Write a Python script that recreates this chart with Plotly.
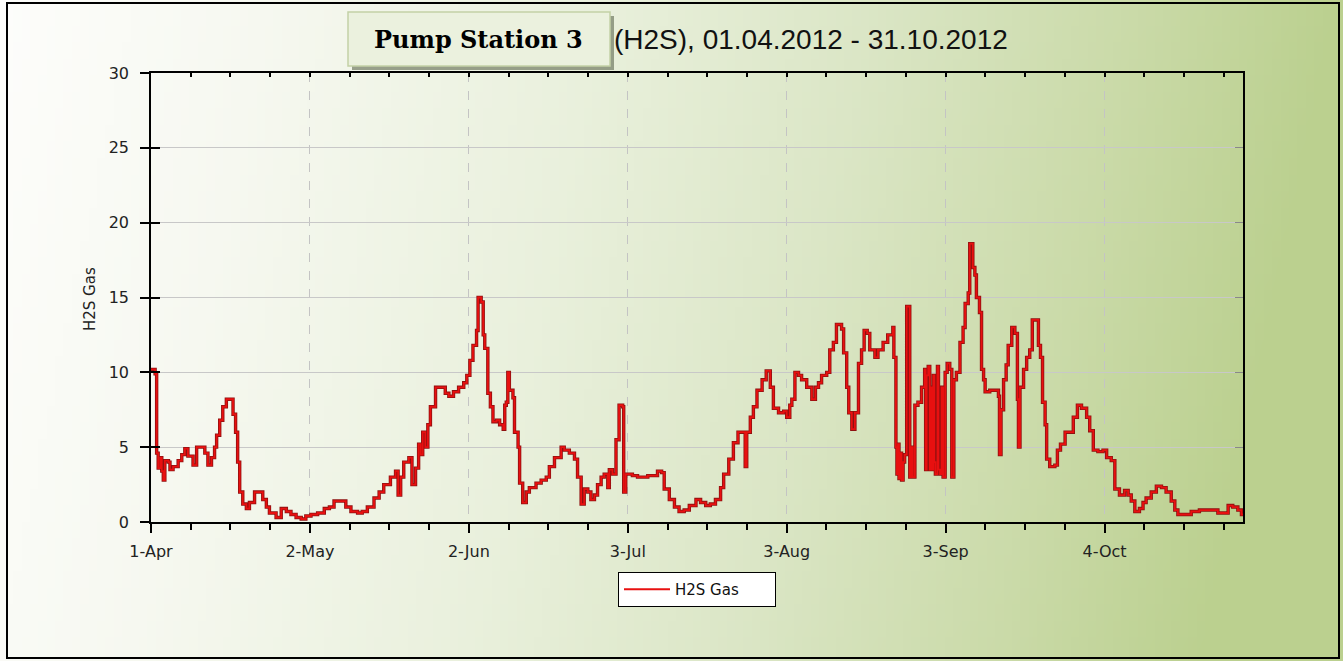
import zlib, struct, base64
import pandas as pd
import plotly.graph_objects as go

# ---------------- data ----------------
start_date = "2012-04-01"
day_offsets = [
    0.0, 0.8, 1.1, 1.4, 1.8, 2.1, 2.4, 2.7, 3.4, 3.7, 4.3, 5.3, 6.0, 6.6, 7.2, 8.2, 8.9, 9.8,
    10.5, 11.1, 11.8, 12.4, 12.8, 13.4, 14.0, 14.7, 16.0, 16.5, 16.9, 17.3, 17.9, 18.6, 19.2,
    20.2, 21.8, 22.5, 23.1, 24.4, 25.4, 26.4, 27.3, 28.3, 29.3, 30.2, 31.2, 32.5, 33.8, 34.8,
    35.7, 38.0, 39.0, 40.3, 41.2, 42.2, 43.5, 44.5, 45.4, 46.7, 47.7, 48.2, 48.7, 49.3, 50.3,
    50.9, 51.6, 52.2, 52.6, 53.0, 53.5, 54.0, 54.5, 55.5, 57.4, 58.1, 59.0, 60.0, 61.0, 61.6,
    62.2, 62.8, 63.5, 63.8, 64.4, 64.8, 65.1, 65.7, 66.2, 66.7, 67.4, 68.0, 68.7, 69.0, 69.3,
    69.6, 69.9, 70.6, 70.9, 71.6, 71.9, 72.5, 73.2, 73.8, 75.1, 76.1, 77.1, 77.7, 78.7, 80.0,
    80.6, 81.6, 82.6, 83.2, 83.9, 84.5, 85.2, 85.8, 86.5, 87.1, 87.8, 88.4, 89.1, 89.4, 90.0,
    90.7, 91.3, 92.0, 92.2, 92.6, 93.9, 94.9, 96.9, 98.8, 99.6, 100.1, 101.1, 102.1, 103.0,
    104.0, 105.0, 106.3, 107.2, 108.2, 109.1, 110.1, 111.1, 111.7, 112.7, 113.6, 114.5, 115.9,
    116.2, 116.9, 117.5, 118.2, 119.2, 120.0, 120.8, 121.4, 122.4, 123.4, 124.0, 124.6, 125.0,
    125.6, 126.3, 126.9, 127.9, 128.9, 129.6, 130.2, 130.8, 131.8, 132.4, 133.1, 133.7, 134.7,
    135.1, 135.7, 136.1, 136.7, 137.3, 138.0, 138.6, 139.1, 139.7, 140.2, 141.2, 141.8, 142.8,
    143.7, 144.7, 144.9, 145.3, 145.5, 145.7, 145.9, 146.1, 146.4, 146.7, 147.0, 147.4, 148.0,
    148.3, 148.6, 149.0, 149.6, 150.3, 150.9, 151.1, 151.3, 151.6, 151.9, 152.1, 152.3, 152.6,
    152.8, 153.0, 153.4, 153.6, 153.9, 154.2, 154.5, 154.9, 155.3, 155.8, 156.2, 156.6, 157.1,
    157.8, 158.4, 158.8, 159.4, 159.7, 160.3, 160.7, 161.0, 161.6, 162.0, 162.4, 162.7, 163.6,
    164.6, 165.3, 165.5, 165.8, 166.3, 166.8, 167.2, 167.9, 168.5, 169.0, 169.2, 169.5, 170.2,
    170.8, 171.4, 171.9, 173.1, 173.5, 173.9, 174.4, 174.7, 175.3, 176.3, 176.8, 177.4, 178.3,
    179.9, 180.7, 181.5, 182.5, 183.1, 183.8, 184.7, 185.7, 186.4, 187.3, 188.0, 188.9, 189.9,
    190.6, 191.2, 191.9, 192.8, 193.5, 194.1, 195.1, 196.1, 197.1, 198.0, 199.0, 199.7, 200.3,
    201.6, 202.9, 204.5, 207.5, 208.1, 210.1, 211.0, 212.0, 212.7, 213.0,
]
h2s_values = [
    10.2, 9.9, 4.6, 3.6, 4.3, 3.4, 2.8, 4.1, 4.0, 3.5, 3.7, 4.1, 4.5, 4.9, 4.4, 3.8, 5.0, 5.0,
    4.6, 3.8, 4.3, 5.0, 5.8, 6.8, 7.7, 8.2, 7.2, 6.0, 4.0, 2.0, 1.2, 0.9, 1.3,
    2.0, 1.5, 1.0, 0.6, 0.3, 0.9, 0.7, 0.5, 0.3, 0.2, 0.4, 0.5, 0.6, 0.9, 1.0,
    1.4, 1.0, 0.7, 0.6, 0.7, 1.0, 1.6, 2.0, 2.5, 3.0, 3.4, 1.8, 3.0, 4.0, 4.3,
    2.5, 3.6, 5.2, 4.5, 6.0, 5.0, 6.5, 7.7, 9.0, 8.6, 8.4, 8.7, 9.0, 9.3, 9.8,
    10.8, 11.8, 12.8, 15.0, 14.7, 12.5, 11.6, 8.6, 7.7, 6.7, 6.8, 6.5, 6.2, 7.8, 8.0,
    10.0, 8.8, 8.3, 6.0, 5.0, 2.6, 1.3, 2.0, 2.3, 2.6, 2.8, 3.0, 3.7, 4.3, 5.0,
    4.8, 4.6, 4.2, 3.0, 1.2, 2.2, 2.0, 1.5, 1.8, 2.5, 3.0, 3.2, 2.3, 3.5, 3.2,
    5.5, 7.8, 7.7, 2.0, 3.2, 3.1, 3.0, 3.1, 3.4, 3.3, 2.2, 1.5, 1.0, 0.7,
    0.8, 1.1, 1.5, 1.3, 1.1, 1.2, 1.5, 2.3, 3.2, 4.2, 5.3, 6.0, 3.7,
    6.0, 7.0, 7.7, 8.8, 9.5, 10.1, 9.0, 7.6, 7.3, 7.4, 7.0, 7.8, 8.2,
    10.0, 9.8, 9.5, 9.0, 8.2, 9.0, 9.3, 9.8, 10.0, 11.5, 12.0, 13.2, 12.9,
    11.3, 9.0, 7.3, 6.2, 7.3, 10.6, 11.5, 12.8, 12.6, 11.5, 11.0, 11.5, 12.0,
    12.5, 13.0, 11.0, 5.0, 3.2, 5.2, 2.9, 4.6, 2.8, 4.0, 4.5, 14.4, 3.0,
    5.0, 3.0, 7.8, 8.0, 9.0, 10.2, 3.5, 9.8, 10.4, 3.5, 9.0, 3.5, 9.8,
    4.0, 3.2, 10.4, 3.5, 3.2, 9.0, 3.0, 10.0, 10.6, 10.2, 3.0, 9.5, 10.0,
    12.0, 13.0, 14.6, 15.3, 18.6, 17.0, 16.5, 15.0, 14.0, 10.2, 9.5, 8.7, 8.8,
    8.8, 8.4, 4.5, 7.5, 9.5, 10.5, 11.8, 13.0, 12.6, 8.2, 5.0, 9.0, 10.2,
    11.0, 11.5, 13.5, 11.8, 11.0, 8.0, 6.5, 4.2, 3.7, 3.8, 4.8, 5.2, 6.0,
    7.0, 7.8, 7.6, 7.0, 6.1, 4.8, 4.7, 4.8, 4.3, 4.1, 2.2, 1.8, 2.1,
    1.8, 1.4, 0.7, 0.9, 1.3, 1.6, 2.0, 2.4, 2.3, 2.0, 1.4, 0.8, 0.5,
    0.5, 0.7, 0.8, 0.8, 0.6, 1.1, 1.0, 0.8, 0.5, 0.5,
]
series_name = "H2S Gas"
y_axis_title = "H2S Gas"
title_box_text = "Pump Station 3"
title_text = "(H2S), 01.04.2012 - 31.10.2012"
x_range = ["2012-04-01", "2012-10-31"]
y_range = [0, 30]

dates = pd.Timestamp(start_date) + pd.to_timedelta(day_offsets, unit="D")

# ---------------- geometry helpers ----------------
W, H = 1343, 661
L, R, T, B = 151, 100, 73, 139
PW, PH = W - L - R, H - T - B


def px(x):
    return (x - L) / PW


def py(y):
    return (H - B - y) / PH


# ---------------- background gradient png ----------------
def make_png(w, h, fn):
    raw = bytearray()
    for j in range(h):
        raw.append(0)
        for i in range(w):
            raw.extend(fn(i / (w - 1), j / (h - 1)))

    def chunk(t, d):
        c = struct.pack(">I", len(d)) + t + d
        return c + struct.pack(">I", zlib.crc32(t + d) & 0xFFFFFFFF)

    png = (b"\x89PNG\r\n\x1a\n"
           + chunk(b"IHDR", struct.pack(">IIBBBBB", w, h, 8, 2, 0, 0, 0))
           + chunk(b"IDAT", zlib.compress(bytes(raw)))
           + chunk(b"IEND", b""))
    return "data:image/png;base64," + base64.b64encode(png).decode()


stops = [(0.0, (253, 253, 251)), (0.2, (246, 248, 240)), (0.45, (233, 240, 220)),
         (0.65, (219, 230, 198)), (0.85, (202, 218, 168)), (1.0, (187, 208, 143))]


def grad(u, v):
    t = min(1.0, u + 0.10 * v)
    for k in range(len(stops) - 1):
        a, ca = stops[k]
        b, cb = stops[k + 1]
        if a <= t <= b:
            f = (t - a) / (b - a)
            return bytes(int(round(ca[c] + (cb[c] - ca[c]) * f)) for c in range(3))
    return bytes(stops[-1][1])


bg_uri = make_png(160, 40, grad)

# ---------------- figure ----------------
fig = go.Figure()
fig.add_trace(go.Scatter(x=dates, y=h2s_values, mode="lines", line_shape="hv",
                         line=dict(color="#8e1010", width=3.4), showlegend=False,
                         hoverinfo="skip"))
fig.add_trace(go.Scatter(x=dates, y=h2s_values, mode="lines", line_shape="hv",
                         line=dict(color="#e81010", width=1.8), name=series_name))
# helper traces so overlay axes get drawn
fig.add_trace(go.Scatter(x=[], y=[], yaxis="y2", showlegend=False))
fig.add_trace(go.Scatter(x=[], y=[], yaxis="y3", showlegend=False))
fig.add_trace(go.Scatter(x=[], y=[], xaxis="x2", showlegend=False))

DAY = 86400000
SANS = "DejaVu Sans, Verdana, sans-serif"
tick_font = dict(family=SANS, size=16, color="#222")

xcommon = dict(type="date", range=x_range, tickmode="linear", tick0=start_date,
               dtick=31 * DAY, tickcolor="black", showgrid=False, zeroline=False)
fig.update_layout(
    width=W, height=H, margin=dict(l=L, r=R, t=T, b=B, pad=0),
    paper_bgcolor="white", plot_bgcolor="white",
    font=tick_font,
    xaxis=dict(**{**xcommon, "showgrid": True}, tickformat="%-d-%b", ticks="outside", ticklen=9,
               tickwidth=1.5, showline=True, linecolor="black", linewidth=1.5, mirror=True,
               gridcolor="#c4c4c4", griddash="dash", gridwidth=1, ticklabelstandoff=5,
               tickfont=tick_font,
               minor=dict(ticks="outside", ticklen=6, tickwidth=1.5, tickcolor="black",
                          tick0=start_date, dtick=31 * DAY / 4, showgrid=False)),
    xaxis2=dict(**xcommon, overlaying="x", side="top", anchor="y", ticks="inside",
                ticklen=4, tickwidth=1.5, showticklabels=False, showline=False,
                minor=dict(ticks="inside", ticklen=4, tickwidth=1.5, tickcolor="black",
                           tick0=start_date, dtick=31 * DAY / 4, showgrid=False)),
    yaxis=dict(range=y_range, dtick=5, ticks="outside", ticklen=9, tickwidth=1.5,
               tickcolor="black", showline=True, linecolor="black", linewidth=1.5,
               mirror=True, gridcolor="#c8c8c8", gridwidth=1, zeroline=False,
               ticklabelstandoff=8, tickfont=tick_font),
    yaxis2=dict(range=y_range, dtick=5, overlaying="y", side="left", anchor="x",
                ticks="inside", ticklen=9, tickwidth=1.5, tickcolor="black",
                showticklabels=False, showgrid=False, zeroline=False, showline=False),
    yaxis3=dict(range=y_range, dtick=5, overlaying="y", side="right", anchor="x",
                ticks="inside", ticklen=8, tickwidth=1, tickcolor="#888",
                showticklabels=False, showgrid=False, zeroline=False, showline=False),
    showlegend=True,
    legend=dict(x=px(618), y=py(572), xanchor="left", yanchor="top",
                orientation="h", entrywidth=95,
                bgcolor="white", bordercolor="black", borderwidth=1,
                font=dict(family=SANS, size=15, color="#111"),
                itemwidth=46),
    hovermode=False,
    images=[dict(source=bg_uri, xref="paper", yref="paper", x=px(0), y=py(0),
                 sizex=px(W) - px(0), sizey=py(0) - py(H), sizing="stretch",
                 xanchor="left", yanchor="top", layer="below")],
    shapes=[
        dict(type="rect", xref="paper", yref="paper", x0=px(7), x1=px(1339), y0=py(3), y1=py(658),
             line=dict(color="black", width=2), fillcolor="rgba(0,0,0,0)"),
        dict(type="rect", xref="paper", yref="paper", x0=px(352), x1=px(614), y0=py(16), y1=py(70),
             line=dict(width=0), fillcolor="rgba(120,130,105,0.75)"),
        dict(type="rect", xref="paper", yref="paper", x0=px(348), x1=px(610), y0=py(12), y1=py(66),
             line=dict(color="#c3d1a6", width=1.5), fillcolor="#ebf1de"),
    ],
    annotations=[
        dict(text="<b>" + title_box_text + "</b>", xref="paper", yref="paper",
             x=px(478), y=py(40), xanchor="center", yanchor="middle", showarrow=False,
             font=dict(family="DejaVu Serif, Georgia, serif", size=24, color="black")),
        dict(text=title_text, xref="paper", yref="paper", x=px(612), y=py(39),
             xanchor="left", yanchor="middle", showarrow=False,
             font=dict(family="Liberation Sans, Arial, sans-serif", size=28, color="#111")),
        dict(text=y_axis_title, xref="paper", yref="paper", x=px(90), y=py(299),
             xanchor="center", yanchor="middle", textangle=-90, showarrow=False,
             font=dict(family=SANS, size=15, color="#222")),
    ],
)

fig.write_html("out.html", config={"displayModeBar": False},
               post_script="document.body.style.margin='0';"
                           "document.body.style.overflow='hidden';"
                           "document.documentElement.style.overflow='hidden';")
